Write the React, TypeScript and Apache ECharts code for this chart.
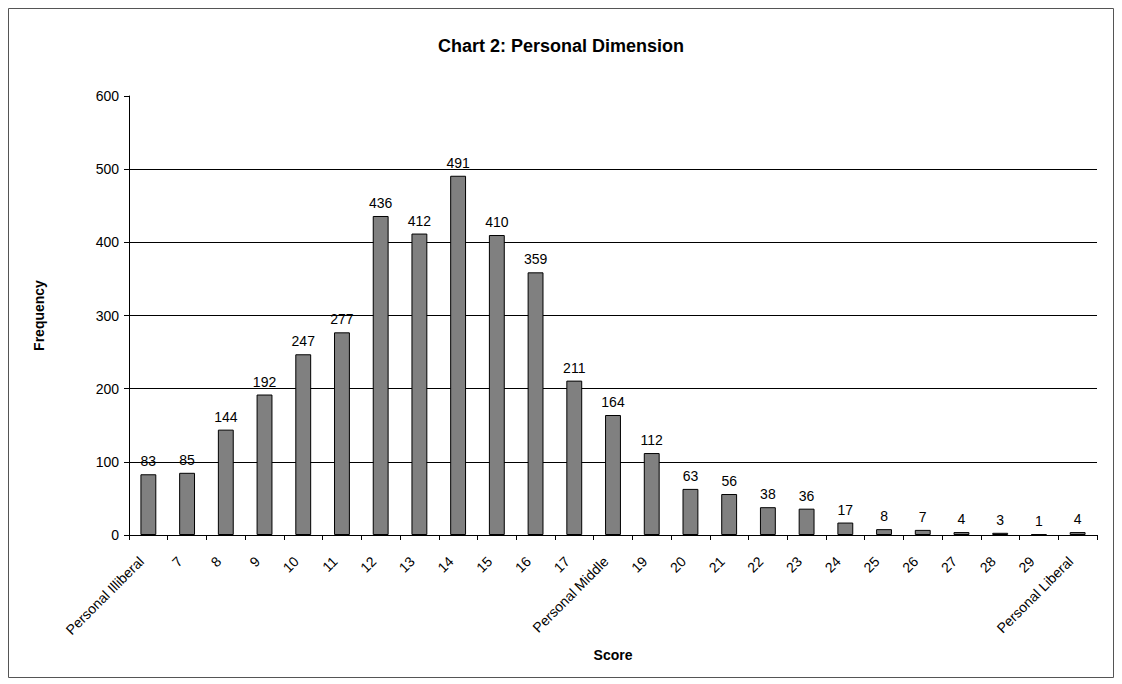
import React, { useEffect, useRef } from "react";
import * as echarts from "echarts";

const categories = [
  "Personal Illiberal", "7", "8", "9", "10", "11", "12", "13", "14", "15", "16", "17",
  "Personal Middle", "19", "20", "21", "22", "23", "24", "25", "26", "27", "28", "29",
  "Personal Liberal",
];
const frequencies = [83, 85, 144, 192, 247, 277, 436, 412, 491, 410, 359, 211, 164, 112, 63, 56, 38, 36, 17, 8, 7, 4, 3, 1, 4];
const yTicks = { min: 0, max: 600, interval: 100 };

const FONT = "'Liberation Sans', Arial, sans-serif";

export default function App() {
  const ref = useRef<HTMLDivElement>(null);
  useEffect(() => {
    if (!ref.current) return;
    const chart = echarts.init(ref.current, null, { renderer: "svg" });
    const W = 1106, H = 670;
    chart.setOption({
      animation: false,
      backgroundColor: "#fff",
      textStyle: { fontFamily: FONT },
      title: {
        text: "Chart 2: Personal Dimension",
        left: "center",
        top: 24,
        textStyle: { fontFamily: FONT, fontSize: 18, fontWeight: "bold", color: "#000" },
      },
      graphic: [
        {
          type: "rect",
          shape: { x: 0.5, y: 0.5, width: W - 1, height: H - 1 },
          style: { fill: "none", stroke: "#555", lineWidth: 1 },
          silent: true,
        },
      ],
      grid: { left: 121, top: 88, right: 17, bottom: 143 },
      xAxis: {
        type: "category",
        data: categories,
        name: "Score",
        nameLocation: "middle",
        nameGap: 113,
        nameTextStyle: { fontFamily: FONT, fontSize: 14, fontWeight: "bold", color: "#000" },
        axisLine: { lineStyle: { color: "#000", width: 1 } },
        axisTick: { show: true, alignWithLabel: false, length: 5, lineStyle: { color: "#000" } },
        axisLabel: {
          rotate: 45,
          interval: 0,
          fontFamily: FONT,
          fontSize: 14,
          color: "#000",
          margin: 17,
          padding: [0, 10, 0, 0],
        },
        splitLine: { show: false },
      },
      yAxis: {
        type: "value",
        min: yTicks.min,
        max: yTicks.max,
        interval: yTicks.interval,
        name: "Frequency",
        nameLocation: "middle",
        nameGap: 83,
        nameRotate: 90,
        nameTextStyle: { fontFamily: FONT, fontSize: 14, fontWeight: "bold", color: "#000" },
        axisLine: { show: true, lineStyle: { color: "#000", width: 1 } },
        axisTick: { show: true, length: 5, lineStyle: { color: "#000" } },
        axisLabel: { fontFamily: FONT, fontSize: 14, color: "#000", margin: 10 },
        splitLine: {
          show: true,
          lineStyle: {
            color: ["#000", "#000", "#000", "#000", "#000", "#000", "rgba(0,0,0,0)"],
            width: 1,
          },
        },
      },
      series: [
        {
          type: "bar",
          data: frequencies,
          barWidth: "41%",
          itemStyle: { color: "#808080", borderColor: "#000", borderWidth: 1 },
          label: {
            show: true,
            position: "top",
            distance: 6,
            fontFamily: FONT,
            fontSize: 14,
            color: "#000",
          },
        },
      ],
    });
    return () => chart.dispose();
  }, []);
  return <div ref={ref} style={{ width: 1106, height: 670 }} />;
}
